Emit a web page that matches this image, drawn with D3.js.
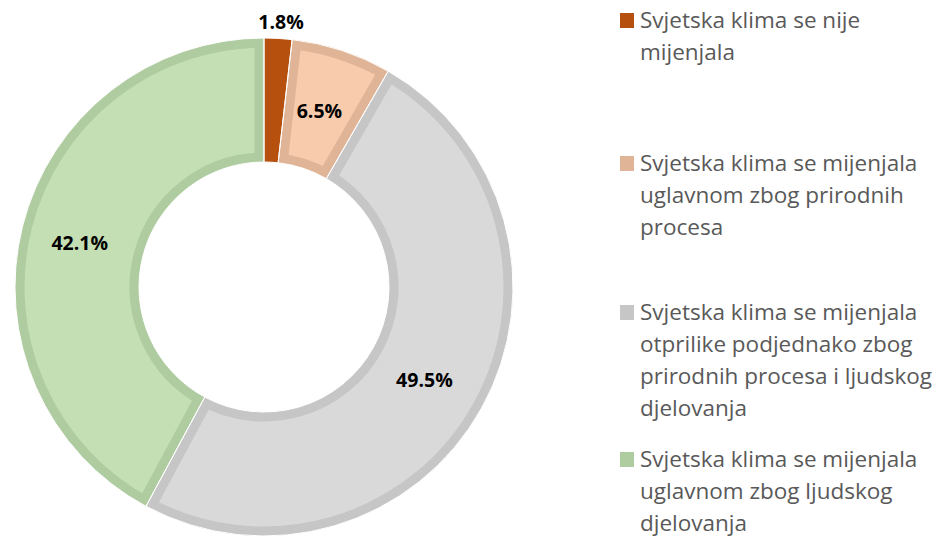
<!DOCTYPE html>
<html>
<head>
<meta charset="utf-8">
<script src="https://cdn.jsdelivr.net/npm/d3@7"></script>
<style>
  body { margin: 0; background: #fff; }
  svg { display: block; }
</style>
</head>
<body>
<svg id="chart" width="940" height="538"></svg>
<script>
const categories = [
    ['Svjetska klima se nije', 'mijenjala'],
    ['Svjetska klima se mijenjala', 'uglavnom zbog prirodnih', 'procesa'],
    ['Svjetska klima se mijenjala', 'otprilike podjednako zbog', 'prirodnih procesa i ljudskog', 'djelovanja'],
    ['Svjetska klima se mijenjala', 'uglavnom zbog ljudskog', 'djelovanja']
];
const values = [1.8, 6.5, 49.5, 42.1];
const labels = ['1.8%', '6.5%', '49.5%', '42.1%'];
const fills = ['#B5500F', '#F8CBAD', '#D9D9D9', '#C5DFB4'];
const borders = ['#B5500F', '#E0B496', '#C6C6C6', '#AFCBA0'];
const legendTop = [20, 163, 312, 459];

const svg = d3.select('#chart');
const cx = 264, cy = 287;
const outerR = 249, innerR = 125;

const pie = d3.pie().sort(null).value(d => d);
const arcs = pie(values);
const arc = d3.arc().innerRadius(innerR).outerRadius(outerR);

const g = svg.append('g').attr('transform', `translate(${cx},${cy})`);

// clip each slice to itself so the stroke sits inside
const defs = svg.append('defs');
arcs.forEach((a, i) => {
    defs.append('clipPath').attr('id', 'clip' + i)
        .append('path').attr('d', arc(a));
});

g.selectAll('path.slice')
    .data(arcs)
    .join('path')
    .attr('class', 'slice')
    .attr('d', arc)
    .attr('fill', (d, i) => fills[i])
    .attr('stroke', (d, i) => borders[i])
    .attr('stroke-width', 19)
    .attr('clip-path', (d, i) => `url(#clip${i})`);

// thin white separators between slices
g.selectAll('path.sep')
    .data(arcs)
    .join('path')
    .attr('class', 'sep')
    .attr('d', arc)
    .attr('fill', 'none')
    .attr('stroke', '#fff')
    .attr('stroke-width', 1);

// data labels
const labelArc = d3.arc().innerRadius((innerR + outerR) / 2).outerRadius((innerR + outerR) / 2);
g.selectAll('text.lbl')
    .data(arcs)
    .join('text')
    .attr('class', 'lbl')
    .attr('transform', (d, i) => {
        if (i === 0) {
            const a = (d.startAngle + d.endAngle) / 2;
            const r = outerR + 16;
            return `translate(${Math.sin(a) * r + 2},${-Math.cos(a) * r})`;
        }
        const [x, y] = labelArc.centroid(d);
        return `translate(${x - 3},${y + 2})`;
    })
    .attr('text-anchor', 'middle')
    .attr('dy', '0.35em')
    .style('font-family', '"Open Sans", "Noto Sans", sans-serif')
    .style('font-weight', 'bold')
    .style('font-size', '19.5px')
    .attr('fill', '#000')
    .text((d, i) => labels[i]);

// legend
const legend = svg.append('g');
categories.forEach((lines, i) => {
    const y0 = legendTop[i];
    legend.append('rect')
        .attr('x', 620).attr('y', y0 - 7)
        .attr('width', 14).attr('height', 15)
        .attr('fill', borders[i]);
    const t = legend.append('text')
        .attr('x', 640).attr('y', y0)
        .style('font-family', '"Open Sans", "Noto Sans", sans-serif')
        .style('font-size', '22.5px')
        .attr('fill', '#595959');
    lines.forEach((ln, j) => {
        t.append('tspan').attr('x', 640).attr('dy', j === 0 ? '0.35em' : 32).text(ln);
    });
});
</script>
</body>
</html>
